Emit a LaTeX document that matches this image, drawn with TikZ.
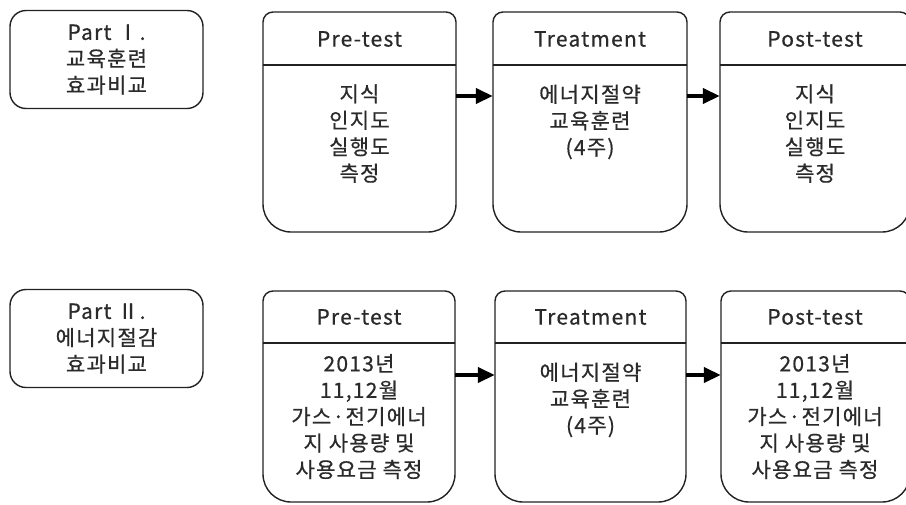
\documentclass[tikz,border=0pt]{standalone}
\usepackage{fontspec}
\setmainfont{Noto Sans CJK KR}[LetterSpace=6, FakeBold=0.6]
\usetikzlibrary{arrows.meta}
\definecolor{ln}{HTML}{222222}
\definecolor{tx}{HTML}{2a2a2a}
\tikzset{
  boxline/.style={draw=ln, line width=1.4pt},
  partbox/.style={draw=ln, line width=1.4pt, rounded corners=16pt, inner sep=0pt,
    minimum width=193pt, minimum height=98pt},
  txt/.style={font=\fontsize{21}{26.5}\selectfont, align=center, inner sep=0pt, text=tx},
  arr/.style={draw=black, line width=4pt, -{Triangle[length=17pt,width=15pt]}},
}
% name, left, right, top, bottom, header-line
\newcommand\mkstep[6]{%
  \node[inner sep=0pt, draw=none, minimum width={(#3-#2)*1pt}, minimum height={(#5-#4)*1pt}]
    (#1) at ({(#2+#3)/2},{(#4+#5)/2}) {};
  \draw[boxline] (#2,#6) [rounded corners=10pt] -- (#2,#4) -- (#3,#4) -- (#3,#6);
  \draw[boxline] (#2,#6) [rounded corners=28pt] -- (#2,#5) -- (#3,#5) -- (#3,#6);
  \draw[boxline] (#2,#6) -- (#3,#6);
}
\begin{document}
\begin{tikzpicture}[x=1pt, y=-1pt]
\useasboundingbox (0,0) rectangle (906,504);
\clip (0,0) rectangle (906,504);
\fill[white] (0,0) rectangle (906,504);

% Part boxes
\node[partbox] (p1) at (106.5,59.5) {};
\node[txt] (p1t) at (p1.center) {Part Ⅰ.\\교육훈련\\효과비교};
\node[partbox] (p2) at (106.5,338.5) {};
\node[txt] (p2t) at (p2.center) {Part Ⅱ.\\에너지절감\\효과비교};

% Row 1
\mkstep{pre1}{263}{456}{12}{232}{65}
\mkstep{tr1}{493}{687}{12}{232}{65}
\mkstep{post1}{720}{910}{12}{232}{65}
\node[txt] (pre1h) at (359.5,39) {Pre-test};
\node[txt] (tr1h) at (590,39) {Treatment};
\node[txt] (post1h) at (815,39) {Post-test};
\node[txt] (pre1b) at (359.5,133.5) {지식\\인지도\\실행도\\측정};
\node[txt] (tr1b) at (590,122) {에너지절약\\교육훈련\\(4주)};
\node[txt] (post1b) at (815,133.5) {지식\\인지도\\실행도\\측정};

% Row 2
\mkstep{pre2}{263}{455}{291}{502}{343}
\mkstep{tr2}{495}{686}{291}{502}{343}
\mkstep{post2}{721}{910}{291}{502}{343}
\node[txt] (pre2h) at (359,317) {Pre-test};
\node[txt] (tr2h) at (590.5,317) {Treatment};
\node[txt] (post2h) at (815,317) {Post-test};
\node[txt] (pre2b) at (359,416.5) {2013년\\11,12월\\가스·전기에너\\지 사용량 및\\사용요금 측정};
\node[txt] (tr2b) at (590.5,400) {에너지절약\\교육훈련\\(4주)};
\node[txt] (post2b) at (815,416.5) {2013년\\11,12월\\가스·전기에너\\지 사용량 및\\사용요금 측정};

% Arrows
\coordinate (r1) at (0,96);
\coordinate (r2) at (0,375);
\draw[arr] (pre1.east |- r1) -- (tr1.west |- r1);
\draw[arr] (tr1.east |- r1) -- (post1.west |- r1);
\draw[arr] (pre2.east |- r2) -- (tr2.west |- r2);
\draw[arr] (tr2.east |- r2) -- (post2.west |- r2);
\end{tikzpicture}
\end{document}
